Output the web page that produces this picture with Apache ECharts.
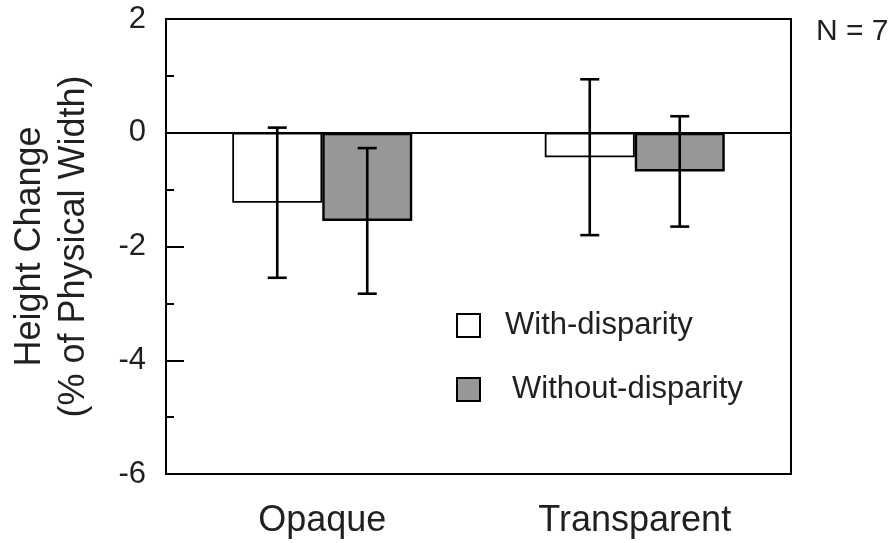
<!DOCTYPE html>
<html>
<head>
<meta charset="utf-8">
<script src="https://cdn.jsdelivr.net/npm/echarts@6/dist/echarts.min.js"></script>
<style>html,body{margin:0;padding:0;background:#fff;}#c{width:894px;height:543px;}</style>
</head>
<body>
<div id="c"></div>
<script>
const categories = ['Opaque', 'Transparent'];
const withMean = [-1.23, -0.43];
const withErr = [1.32, 1.37];
const withoutMean = [-1.55, -0.68];
const withoutErr = [1.28, 0.97];
const seriesNames = ['With-disparity', 'Without-disparity'];
const yTicks = [-6, -4, -2, 0, 2];

const FONT = 'Liberation Sans, Arial, Helvetica, sans-serif';
const TXT = '#231f20';
const BAR_W = 90;

function errData(mean, err) {
  return mean.map((m, i) => [i, m - err[i], m + err[i]]);
}

function makeErr(offsetSign) {
  return function (params, api) {
    const x = api.value(0);
    const lo = api.coord([x, api.value(1)]);
    const hi = api.coord([x, api.value(2)]);
    const cx = lo[0] + offsetSign * BAR_W / 2;
    const cap = 9.5;
    const st = { stroke: '#000', lineWidth: 2.6 };
    return {
      type: 'group',
      children: [
        { type: 'line', shape: { x1: cx, y1: hi[1], x2: cx, y2: lo[1] }, style: st },
        { type: 'line', shape: { x1: cx - cap, y1: hi[1], x2: cx + cap, y2: hi[1] }, style: st },
        { type: 'line', shape: { x1: cx - cap, y1: lo[1], x2: cx + cap, y2: lo[1] }, style: st }
      ]
    };
  };
}

const chart = echarts.init(document.getElementById('c'), null, { renderer: 'canvas' });
chart.setOption({
  animation: false,
  backgroundColor: '#fff',
  textStyle: { fontFamily: FONT, color: TXT },
  title: {
    text: 'N = 7', left: 811, top: 12,
    textStyle: { fontFamily: FONT, fontSize: 30, fontWeight: 'normal', color: TXT }
  },
  grid: { left: 161, right: 103, top: 19, bottom: 69, show: true, borderColor: '#000', borderWidth: 2, backgroundColor: 'transparent' },
  legend: {
    orient: 'vertical', left: 451, top: 305,
    itemWidth: 23, itemHeight: 23, itemGap: 33,
    icon: 'rect',
    textStyle: { fontFamily: FONT, fontSize: 31, color: TXT },
    data: [
      { name: seriesNames[0], textStyle: { padding: [0, 0, 0, 20] } },
      { name: seriesNames[1], textStyle: { padding: [0, 0, 0, 27] } }
    ]
  },
  xAxis: {
    type: 'category', data: categories,
    axisLine: { show: true, lineStyle: { color: '#000', width: 2 } },
    axisTick: { show: false },
    axisLabel: { fontFamily: FONT, fontSize: 36, color: TXT, margin: 29 },
    splitLine: { show: false }
  },
  yAxis: {
    type: 'value', min: -6, max: 2, interval: 2,
    name: 'Height Change\n(% of Physical Width)',
    nameLocation: 'middle', nameRotate: 90, nameGap: 70,
    nameTextStyle: { fontFamily: FONT, fontSize: 36, color: TXT, lineHeight: 44 },
    axisLine: { show: true, lineStyle: { color: '#000', width: 2 } },
    axisTick: { show: true, inside: true, length: 18, lineStyle: { color: '#000', width: 2 } },
    minorTick: { show: true, splitNumber: 2, length: 8, lineStyle: { color: '#000', width: 2 } },
    axisLabel: { fontFamily: FONT, fontSize: 31, color: TXT, margin: 20, formatter: v => yTicks.includes(v) ? String(v) : '' },
    splitLine: { show: false }
  },
  series: [
    {
      name: seriesNames[0], type: 'bar', data: withMean,
      barWidth: BAR_W, barGap: '0%',
      itemStyle: { color: '#ffffff', borderColor: '#000', borderWidth: 1.8 },
      markLine: {
        silent: true, symbol: 'none', label: { show: false },
        lineStyle: { color: '#000', width: 2, type: 'solid' },
        data: [{ yAxis: 0 }]
      },
      z: 2
    },
    {
      name: seriesNames[1], type: 'bar', data: withoutMean,
      barWidth: BAR_W, barGap: '0%',
      itemStyle: { color: '#979797', borderColor: '#000', borderWidth: 2.4 },
      z: 2
    },
    {
      type: 'custom', renderItem: makeErr(-1), data: errData(withMean, withErr),
      encode: { x: 0, y: [1, 2] }, z: 5, silent: true
    },
    {
      type: 'custom', renderItem: makeErr(1), data: errData(withoutMean, withoutErr),
      encode: { x: 0, y: [1, 2] }, z: 5, silent: true
    }
  ]
});
</script>
</body>
</html>
